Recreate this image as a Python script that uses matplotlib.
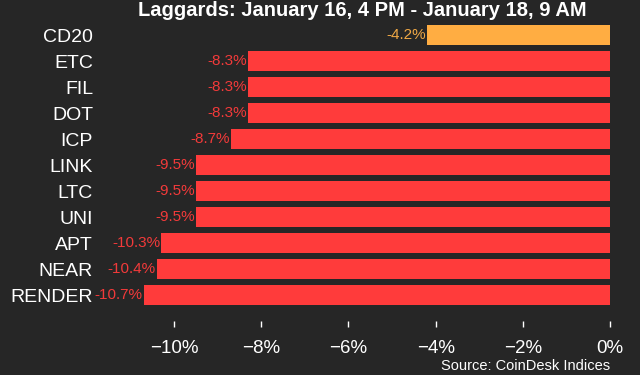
import matplotlib
matplotlib.use("Agg")
import matplotlib.pyplot as plt

plt.rcParams['font.family'] = ['Liberation Sans', 'DejaVu Sans']

categories = ["CD20", "ETC", "FIL", "DOT", "ICP", "LINK", "LTC", "UNI", "APT", "NEAR", "RENDER"]
values = [-4.2, -8.3, -8.3, -8.3, -8.7, -9.5, -9.5, -9.5, -10.3, -10.4, -10.7]
labels = ["-4.2%", "-8.3%", "-8.3%", "-8.3%", "-8.7%", "-9.5%", "-9.5%", "-9.5%", "-10.3%", "-10.4%", "-10.7%"]
xticks = [-10, -8, -6, -4, -2, 0]
xticklabels = ["\u221210%", "\u22128%", "\u22126%", "\u22124%", "\u22122%", "0%"]
title = "Laggards: January 16, 4 PM - January 18, 9 AM"
source = "Source: CoinDesk Indices"

bg = "#262626"
red = "#ff3b3b"
orange = "#ffad42"
colors = [orange] + [red] * (len(categories) - 1)
label_colors = ["#f0a845"] + ["#f23a3a"] * (len(categories) - 1)

fig = plt.figure(figsize=(6.4, 3.75), dpi=100, facecolor=bg)
ax = fig.add_axes([100/640, 1 - 321/375, 510/640, 299/375])
ax.set_facecolor(bg)

ypos = list(range(len(categories)))
ax.barh(ypos, values, height=0.78, color=colors)
ax.set_xlim(-11.7, 0)
ax.set_ylim(11.0, -0.5)

for y, v, lab, c in zip(ypos, values, labels, label_colors):
    ax.text(v - 0.02, y, lab, ha='right', va='center', color=c, fontsize=11)

ax.set_yticks(ypos)
ax.set_yticklabels(categories, color='white', fontsize=14)
ax.tick_params(axis='y', length=0, pad=5)
ax.set_xticks(xticks)
ax.set_xticklabels(xticklabels, color='white', fontsize=13.5)
ax.tick_params(axis='x', direction='out', length=4, width=1, color='white', pad=10)
for s in ax.spines.values():
    s.set_visible(False)

fig.text(362/640, 1 - 10/375, title, ha='center', va='center', color='white',
         fontsize=14.5, fontweight='bold')
fig.text(610/640, 1 - 366/375, source, ha='right', va='center', color='white', fontsize=10.5)

fig.savefig("out.png", dpi=100, facecolor=bg)
